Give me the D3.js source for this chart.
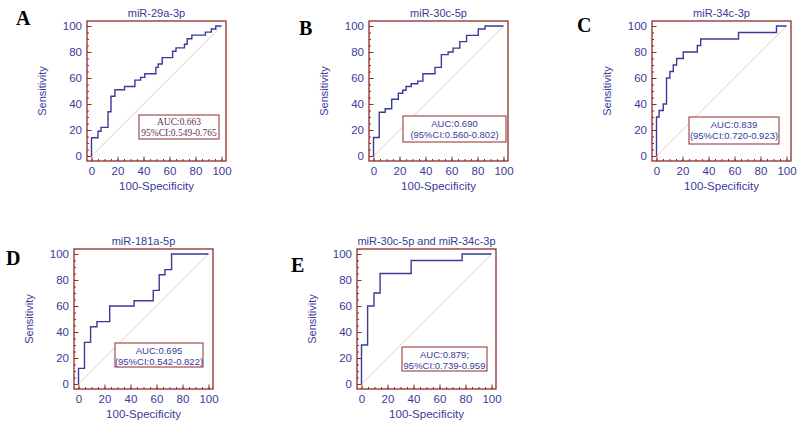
<!DOCTYPE html>
<html>
<head>
<meta charset="utf-8">
<script src="https://cdn.jsdelivr.net/npm/d3@7"></script>
<style>
  body { margin: 0; background: #fff; }
  svg { display: block; }
</style>
</head>
<body>
<div id="chart"></div>
<script>
// ROC curves (x = 100-Specificity, y = Sensitivity)
const panelLetters = ["A", "B", "C", "D", "E"];
const panelTitles = ["miR-29a-3p", "miR-30c-5p", "miR-34c-3p", "miR-181a-5p", "miR-30c-5p and miR-34c-3p"];

// each point = (x where a horizontal run ends, level of that run), drawn as steps
const fprA  = [0, 5, 7.3, 12.7, 15, 18, 25.4, 33.4, 37.8, 41, 49.5, 51.3, 54.4, 62.4, 65, 71.5, 73.6, 77.2, 87.6, 92.2, 95.6, 100];
const sensA = [0, 14, 19, 22, 34, 46, 51, 53.5, 58.4, 60.5, 63.3, 68.2, 70.8, 75.7, 80.6, 83.2, 86, 90.2, 93, 95.3, 97.7, 100];
const fprB  = [0, 4.4, 9, 14, 19.1, 22.5, 25, 29, 34, 38, 47.3, 52.2, 57.4, 61.2, 66.4, 71.6, 80.6, 85.8, 100];
const sensB = [0, 14.2, 33.6, 36.4, 43.7, 48.3, 50.6, 53.5, 55.6, 57.6, 63.3, 68.2, 78, 80, 83, 88, 92.8, 97.7, 100];
const fprC  = [0, 2, 5.2, 7.7, 10.3, 12.9, 15.5, 20.6, 31.4, 34, 63.1, 92.3, 100];
const sensC = [0, 30, 35, 40, 60, 65, 70, 75, 80, 85, 90, 95, 100];
const fprD  = [0, 4.6, 9.3, 14.2, 24, 42.8, 57.5, 62.1, 66.5, 71.6, 100];
const sensD = [0, 12, 32, 44, 48, 60, 64, 72, 84, 88, 100];
const fprE  = [0, 4.7, 9.6, 14.3, 38.2, 77.4, 100];
const sensE = [0, 30, 60, 70, 85, 95, 100];

const aucLines = [
  ["AUC:0.663", "95%CI:0.549-0.765"],
  ["AUC:0.690", "(95%CI:0.560-0.802)"],
  ["AUC:0.839", "(95%CI:0.720-0.923)"],
  ["AUC:0.695", "(95%CI:0.542-0.822)"],
  ["AUC:0.879;", "95%CI:0.739-0.959"]
];

const majorTicks = [0, 20, 40, 60, 80, 100];
const minorTicks = d3.range(0, 101, 5);

// layout (frame position, label and AUC box placement)
const frames = [[87, 21], [369, 21], [652, 21], [74, 249], [357, 249]];
const letterPos = [[16, 25], [299, 35], [577, 32], [6, 265], [291, 272]];
const boxes = [[139, 115, 80, 24], [403, 116, 103, 26], [689, 117, 90, 27], [115, 343, 88, 24], [402, 347, 85, 24]];
const frameW = 139, frameH = 140, pad = 4.5;

const red = "#8e2b2b", navy = "#3a3a98", sans = "'Liberation Sans', Arial, sans-serif", serif = "'Liberation Serif', 'Times New Roman', serif";

const curves = [[fprA, sensA], [fprB, sensB], [fprC, sensC], [fprD, sensD], [fprE, sensE]];

const svg = d3.select("#chart").append("svg")
  .attr("width", 799)
  .attr("height", 424);

panelLetters.forEach((letter, i) => {
  const [fx, fy] = frames[i];
  const x = d3.scaleLinear().domain([0, 100]).range([fx + pad, fx + frameW - pad]);
  const y = d3.scaleLinear().domain([0, 100]).range([fy + frameH - pad - 0.5, fy + pad + 0.5]);
  const g = svg.append("g");

  // panel letter
  svg.append("text")
    .attr("x", letterPos[i][0]).attr("y", letterPos[i][1])
    .style("font", `bold 20px ${serif}`)
    .text(letter);

  // title
  g.append("text")
    .attr("x", fx + frameW / 2).attr("y", fy - 4)
    .attr("text-anchor", "middle")
    .attr("fill", navy)
    .style("font", `11px ${sans}`)
    .text(panelTitles[i]);

  // minor + major ticks (inward), labels only on majors
  const bottom = fy + frameH, left = fx;
  g.append("g").attr("transform", `translate(0,${bottom})`)
    .call(d3.axisBottom(x).tickValues(minorTicks).tickSize(-2).tickFormat(""));
  g.append("g").attr("transform", `translate(0,${bottom})`)
    .call(d3.axisBottom(x).tickValues(majorTicks).tickSize(-4.5).tickPadding(6));
  g.append("g").attr("transform", `translate(${left},0)`)
    .call(d3.axisLeft(y).tickValues(minorTicks).tickSize(-2).tickFormat(""));
  g.append("g").attr("transform", `translate(${left},0)`)
    .call(d3.axisLeft(y).tickValues(majorTicks).tickSize(-4.5).tickPadding(5));
  g.selectAll(".domain").remove();
  g.selectAll(".tick line").attr("stroke", red);
  g.selectAll(".tick text").attr("fill", navy).style("font", `11.5px ${sans}`);

  // diagonal reference line
  g.append("line")
    .attr("x1", x(0)).attr("y1", y(0))
    .attr("x2", x(100)).attr("y2", y(100))
    .attr("stroke", "#e6b9b9").attr("stroke-width", 0.8);

  // ROC step curve
  const [fpr, sens] = curves[i];
  const pts = fpr.map((v, k) => [v, sens[k]]);
  g.append("path")
    .datum(pts)
    .attr("fill", "none")
    .attr("stroke", navy)
    .attr("stroke-width", 1.4)
    .attr("d", d3.line().x(d => x(d[0])).y(d => y(d[1])).curve(d3.curveStepBefore));

  // frame
  g.append("rect")
    .attr("x", fx).attr("y", fy).attr("width", frameW).attr("height", frameH)
    .attr("fill", "none").attr("stroke", red).attr("stroke-width", 1.3);

  // axis labels
  g.append("text")
    .attr("x", fx + frameW / 2).attr("y", fy + frameH + 29)
    .attr("text-anchor", "middle").attr("fill", navy)
    .style("font", `11.5px ${sans}`)
    .text("100-Specificity");
  g.append("text")
    .attr("transform", `translate(${fx - 41},${fy + frameH / 2}) rotate(-90)`)
    .attr("text-anchor", "middle").attr("fill", navy)
    .style("font", `11px ${sans}`)
    .text("Sensitivity");

  // AUC box
  const [bx, by, bw, bh] = boxes[i];
  g.append("rect")
    .attr("x", bx).attr("y", by).attr("width", bw).attr("height", bh)
    .attr("fill", "#fff").attr("stroke", red).attr("stroke-width", 1);
  aucLines[i].forEach((t, k) => {
    g.append("text")
      .attr("x", bx + bw / 2).attr("y", by + (i === 0 ? 9.5 : 10.5) + k * 11.5)
      .attr("text-anchor", "middle")
      .attr("fill", i === 0 ? "#5e2f52" : navy)
      .style("font", i === 0 ? `9.5px ${serif}` : `9.5px ${sans}`)
      .text(t);
  });
});
</script>
</body>
</html>
